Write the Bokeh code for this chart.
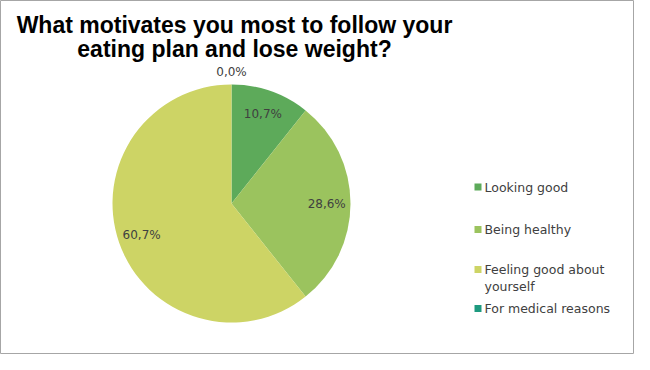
import math
from bokeh.plotting import figure
from bokeh.models import Range1d, ColumnDataSource
from bokeh.core.properties import value
from bokeh.embed import file_html
from bokeh.resources import INLINE

# ---- data ----
categories = ["Looking good", "Being healthy", "Feeling good about\nyourself", "For medical reasons"]
shares = [10.7, 28.6, 60.7, 0.0]
label_texts = ["10,7%", "28,6%", "60,7%", "0,0%"]
colors = ["#5DAA5A", "#9BC35E", "#CDD465", "#1E9A7F"]
title_lines = ["What motivates you most to follow your", "eating plan and lose weight?"]

W, H = 634, 354
p = figure(width=W, height=H, output_backend="svg", toolbar_location=None,
           x_range=Range1d(0, W), y_range=Range1d(0, H),
           min_border=0, min_border_left=0, min_border_right=0,
           min_border_top=0, min_border_bottom=0)
p.axis.visible = False
p.grid.visible = False
p.outline_line_color = "#A6A6A6"
p.outline_line_width = 1
p.background_fill_color = "white"
p.border_fill_color = "white"

def sy(y):
    return H - y

# pie
cx, cy, R = 231, sy(203), 119
total = sum(shares)
ws, we, wc = [], [], []
lx, ly = [], []
cum = 0.0
for s, c in zip(shares, colors):
    a0 = math.pi / 2 - 2 * math.pi * cum / total
    a1 = math.pi / 2 - 2 * math.pi * (cum + s) / total
    if s > 0:
        ws.append(a0)
        we.append(a1)
        wc.append(c)
    mid = (a0 + a1) / 2
    rr = 0.8 * R if s > 0 else R + 13
    lx.append(cx + rr * math.cos(mid))
    ly.append(cy + rr * math.sin(mid))
    cum += s

wsrc = ColumnDataSource(dict(x=[cx] * len(ws), y=[cy] * len(ws), start=ws, end=we, color=wc))
p.wedge(x="x", y="y", radius=R, start_angle="start", end_angle="end", direction="clock",
        fill_color="color", line_color=None, source=wsrc)
lsrc = ColumnDataSource(dict(lx=lx, ly=ly, lab=label_texts))
p.text(x="lx", y="ly", text="lab", source=lsrc, text_align="center", text_baseline="middle",
       text_font=value("DejaVu Sans"), text_font_size="12px", text_color="#404040")

# title
p.text(x=[234, 234], y=[sy(24), sy(48)], text=title_lines, text_align="center",
       text_baseline="middle", text_font=value("Liberation Sans"), text_font_style="bold",
       text_font_size="23px", text_color="#000000")

# legend
leg_y = [186.5, 229, 269, 308]
spacing = 17
p.scatter(x=[477.5] * 4, y=[sy(v) for v in leg_y], marker="square", size=7,
          fill_color=colors, line_color=None)
text_y = [sy(v + (c.count("\n")) * spacing / 2) for v, c in zip(leg_y, categories)]
p.text(x=[484] * 4, y=text_y, text=categories, text_align="left",
       text_baseline="middle", text_font=value("DejaVu Sans"), text_font_size="12.5px",
       text_color="#404040", text_line_height=1.1)

open("out.html", "w").write(file_html(p, INLINE))
